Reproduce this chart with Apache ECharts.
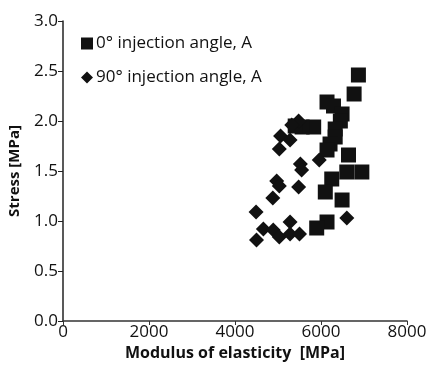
<!DOCTYPE html>
<html>
<head>
<meta charset="utf-8">
<script src="https://cdn.jsdelivr.net/npm/echarts@6/dist/echarts.min.js"></script>
<style>
  html, body { margin: 0; padding: 0; background: #fff; }
  #main { width: 426px; height: 367px; }
</style>
</head>
<body>
<div id="main"></div>
<script>
// 0 deg injection angle (squares): [modulus MPa, stress MPa]
var angle0 = [
  [6870, 2.46], [6770, 2.27], [6140, 2.19], [6290, 2.15], [6490, 2.07],
  [6450, 2.00], [5830, 1.94], [5560, 1.94], [5400, 1.95], [6330, 1.92],
  [6330, 1.84], [6210, 1.77], [6140, 1.71], [6640, 1.66], [6600, 1.49],
  [6950, 1.49], [6250, 1.42], [6100, 1.29], [6490, 1.21], [6140, 0.99],
  [5900, 0.93]
];
// 90 deg injection angle (diamonds)
var angle90 = [
  [4500, 0.81], [4490, 1.09], [4660, 0.92], [4890, 0.91], [5030, 0.84],
  [5280, 0.99], [5280, 0.87], [5500, 0.87], [6600, 1.03], [4880, 1.23],
  [4970, 1.40], [5030, 1.35], [5480, 1.34], [5520, 1.57], [5550, 1.51],
  [5960, 1.61], [5030, 1.72], [5060, 1.85], [5280, 1.81], [5480, 2.00],
  [5320, 1.96]
];
var seriesNames = ['0\u00b0 injection angle, A', '90\u00b0 injection angle, A'];

var ink = '#111';
var font = '"Open Sans", "Liberation Sans", sans-serif';

var chart = echarts.init(document.getElementById('main'));
chart.setOption({
  animation: false,
  grid: { left: 63, right: 19, top: 21, bottom: 46, outerBoundsMode: 'none', containLabel: false },
  legend: {
    orient: 'vertical',
    left: 76,
    top: 30,
    itemWidth: 12,
    itemHeight: 12,
    itemGap: 17,
    textStyle: { color: ink, fontSize: 17, fontFamily: font, padding: [0, 0, 0, -2] },
    data: [
      { name: seriesNames[0], icon: 'rect' },
      { name: seriesNames[1], icon: 'diamond' }
    ]
  },
  xAxis: {
    type: 'value',
    min: 0, max: 8000, interval: 2000,
    name: 'Modulus of elasticity  [MPa]',
    nameLocation: 'middle',
    nameGap: 24,
    nameTextStyle: { color: ink, fontSize: 16, fontWeight: 'bold', fontFamily: font },
    axisLine: { show: true, lineStyle: { color: '#333', width: 1.5 } },
    axisTick: { show: true, length: 4, lineStyle: { color: '#333' } },
    axisLabel: {
      color: ink, fontSize: 17, fontFamily: font, margin: 3,
      formatter: function (v) { return String(v); }
    },
    splitLine: { show: false }
  },
  yAxis: {
    type: 'value',
    min: 0, max: 3, interval: 0.5,
    name: 'Stress [MPa]',
    nameLocation: 'middle',
    nameGap: 41,
    nameTextStyle: { color: ink, fontSize: 15, fontWeight: 'bold', fontFamily: font },
    axisLine: { show: true, lineStyle: { color: '#222', width: 1.5 } },
    axisTick: { show: true, length: 5, lineStyle: { color: '#222' } },
    axisLabel: {
      color: ink, fontSize: 17, fontFamily: font, margin: 5,
      formatter: function (v) { return v.toFixed(1); }
    },
    splitLine: { show: false }
  },
  series: [
    {
      name: seriesNames[0],
      type: 'scatter',
      symbol: 'rect',
      symbolSize: 15,
      itemStyle: { color: ink, opacity: 1 },
      data: angle0
    },
    {
      name: seriesNames[1],
      type: 'scatter',
      symbol: 'diamond',
      symbolSize: 15,
      itemStyle: { color: ink, opacity: 1 },
      data: angle90
    }
  ]
});
</script>
</body>
</html>
